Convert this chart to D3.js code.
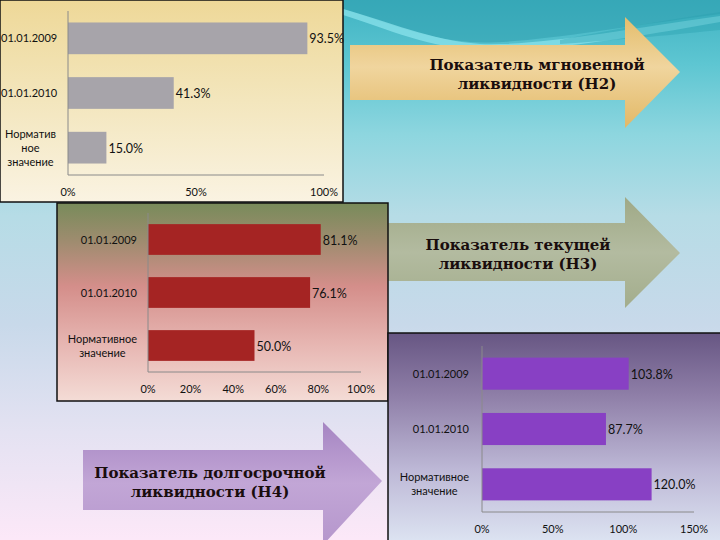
<!DOCTYPE html>
<html>
<head>
<meta charset="utf-8">
<script src="https://cdn.jsdelivr.net/npm/d3@7"></script>
<style>
  body { margin: 0; padding: 0; }
  svg { display: block; }
  .cat, .tick-lbl, .val { font-family: Lato, "Open Sans", sans-serif; fill: #111; }
  .arrow-text { font-family: "DejaVu Serif", serif; font-weight: bold; fill: #1a0d0d; }
</style>
</head>
<body>
<script>
//slide size
var w = 720, h = 540;

//data
var categories = ["01.01.2009", "01.01.2010", "Нормативное значение"];
var h2Values = [93.5, 41.3, 15.0];
var h3Values = [81.1, 76.1, 50.0];
var h4Values = [103.8, 87.7, 120.0];
var h2Ticks = [0, 50, 100];
var h3Ticks = [0, 20, 40, 60, 80, 100];
var h4Ticks = [0, 50, 100, 150];
//how category names are wrapped in each chart
var h2Lines = [["01.01.2009"], ["01.01.2010"], ["Норматив", "ное", "значение"]];
var h34Lines = [["01.01.2009"], ["01.01.2010"], ["Нормативное", "значение"]];
var arrowTitles = [
    ["Показатель мгновенной", "ликвидности (Н2)"],
    ["Показатель текущей", "ликвидности (Н3)"],
    ["Показатель долгосрочной", "ликвидности (Н4)"]
];

var svg = d3.select("body").append("svg")
    .attr("width", w)
    .attr("height", h);

var defs = svg.append("defs");

//helper for linear gradients
function grad(id, stops, horizontal){
    var g = defs.append("linearGradient")
        .attr("id", id)
        .attr("x1", 0).attr("y1", 0)
        .attr("x2", horizontal ? 1 : 0)
        .attr("y2", horizontal ? 0 : 1);
    stops.forEach(function(s){
        g.append("stop").attr("offset", s[0]).attr("stop-color", s[1]);
    });
}

grad("bg", [[0, "#3fb3c2"], [0.12, "#5ec6d2"], [0.25, "#8ed6df"], [0.4, "#b6dce6"], [0.6, "#c8d9ea"], [0.8, "#e4e2f2"], [1, "#fce8f8"]]);
grad("p1", [[0, "#eed898"], [0.5, "#f3e6bd"], [1, "#faf3e2"]]);
grad("p2", [[0, "#788b5a"], [0.2, "#a08c70"], [0.42, "#d48e8a"], [0.7, "#e6b4b0"], [1, "#f4dcd6"]]);
grad("p3", [[0, "#675683"], [0.3, "#8f7fa8"], [0.65, "#bdb8d6"], [1, "#dde4f2"]]);
grad("a1", [[0, "#e4bd6c"], [0.45, "#f0d59e"], [1, "#e2b866"]]);
grad("a2", [[0, "#9fa986"], [0.5, "#b3bba0"], [1, "#a3ad8c"]]);
grad("a3", [[0, "#a585c2"], [0.5, "#c2a6d6"], [1, "#b596cc"]]);

//background
svg.append("rect")
    .attr("width", w).attr("height", h)
    .style("fill", "url(#bg)");

//teal swooshes at the top
svg.append("path")
    .attr("d", "M340,0 L720,0 L720,14 C600,30 520,45 470,42 C420,38 380,20 340,8 Z")
    .style("fill", "#2f9fae").style("opacity", 0.55);
svg.append("path")
    .attr("d", "M340,8 C390,22 430,40 480,44 C540,46 620,30 720,16 L720,22 C620,40 540,52 480,50 C430,48 390,30 340,14 Z")
    .style("fill", "#8fe6ee").style("opacity", 0.7);
svg.append("path")
    .attr("d", "M560,40 C620,28 680,18 720,12 L720,30 C680,34 620,40 560,44 Z")
    .style("fill", "#2aa0b0").style("opacity", 0.4);

//arrow shape: body + head
function arrow(b, fillId){
    var pts = [
        [b.x0, b.y0], [b.hx, b.y0], [b.hx, b.hy0], [b.tx, b.ty],
        [b.hx, b.hy1], [b.hx, b.y1], [b.x0, b.y1]
    ];
    svg.append("path")
        .attr("d", d3.line()(pts) + "Z")
        .style("fill", "url(#" + fillId + ")");
}

function arrowText(lines, cx, y0){
    var t = svg.append("text")
        .attr("class", "arrow-text")
        .attr("text-anchor", "middle")
        .style("font-size", "15px");
    lines.forEach(function(l, i){
        t.append("tspan").attr("x", cx).attr("y", y0 + i * 19).text(l);
    });
}

arrow({x0: 350, y0: 45, y1: 100, hx: 625, hy0: 17, hy1: 128, tx: 680, ty: 72}, "a1");
arrow({x0: 388, y0: 223, y1: 281, hx: 625, hy0: 197, hy1: 308, tx: 680, ty: 253}, "a2");
arrow({x0: 83, y0: 450, y1: 510, hx: 323, hy0: 422, hy1: 545, tx: 382, ty: 481}, "a3");

//one bar chart panel
function panel(cfg){
    var g = svg.append("g");

    g.append("rect")
        .attr("x", cfg.box[0]).attr("y", cfg.box[1])
        .attr("width", cfg.box[2]).attr("height", cfg.box[3])
        .style("fill", "url(#" + cfg.bg + ")")
        .style("stroke", "#111")
        .style("stroke-width", 1.5);

    var x = d3.scaleLinear()
        .domain([0, cfg.max])
        .range(cfg.xRange);

    var y = d3.scaleBand()
        .domain(categories)
        .range(cfg.yRange)
        .paddingInner(0.42)
        .paddingOuter(0.21);

    //bars
    g.selectAll(".bar")
        .data(cfg.values)
        .enter()
        .append("rect")
        .attr("class", "bar")
        .attr("x", x(0))
        .attr("y", function(d, i){ return y(categories[i]); })
        .attr("width", function(d){ return x(d) - x(0); })
        .attr("height", y.bandwidth())
        .style("fill", cfg.color);

    //axis lines
    g.append("line")
        .attr("x1", x(0)).attr("x2", x(0))
        .attr("y1", cfg.yRange[0]).attr("y2", cfg.yRange[1])
        .style("stroke", "#8a8a8a");
    g.append("line")
        .attr("x1", x(0)).attr("x2", x(cfg.max))
        .attr("y1", cfg.yRange[1]).attr("y2", cfg.yRange[1])
        .style("stroke", "#8a8a8a");

    //tick labels
    g.selectAll(".tick-lbl")
        .data(cfg.ticks)
        .enter()
        .append("text")
        .attr("class", "tick-lbl")
        .attr("text-anchor", "middle")
        .attr("x", function(d){ return x(d); })
        .attr("y", cfg.yRange[1] + 21)
        .style("font-size", "11px")
        .text(function(d){ return d + "%"; });

    //value labels
    g.selectAll(".val")
        .data(cfg.values)
        .enter()
        .append("text")
        .attr("class", "val")
        .attr("x", function(d){ return x(d) + 2; })
        .attr("y", function(d, i){ return y(categories[i]) + y.bandwidth() / 2 + 5; })
        .style("font-size", "12.5px")
        .text(function(d){ return d3.format(".1f")(d) + "%"; });

    //category labels: block right-aligned, lines centred in block
    cfg.lines.forEach(function(lines, i){
        var cy = y(categories[i]) + y.bandwidth() / 2;
        var t = g.append("text")
            .attr("class", "cat")
            .attr("text-anchor", "middle")
            .style("font-size", "11px");
        var spans = lines.map(function(l, j){
            return t.append("tspan")
                .attr("y", cy + 4 + (j - (lines.length - 1) / 2) * 14)
                .text(l);
        });
        var bw = d3.max(spans, function(s){ return s.node().getComputedTextLength(); });
        var cx = Math.max(x(0) - cfg.gap - bw / 2, cfg.box[0] + bw / 2 + 1);
        spans.forEach(function(s){ s.attr("x", cx); });
    });
}

panel({
    box: [0, 0, 343, 202], bg: "p1", color: "#a7a4aa",
    values: h2Values, ticks: h2Ticks, lines: h2Lines, max: 100,
    xRange: [68, 324], yRange: [11, 175], gap: 12
});

panel({
    box: [57, 203, 331, 198], bg: "p2", color: "#a52423",
    values: h3Values, ticks: h3Ticks, lines: h34Lines, max: 100,
    xRange: [148, 361], yRange: [213, 372], gap: 11
});

panel({
    box: [388, 333, 335, 210], bg: "p3", color: "#8840c4",
    values: h4Values, ticks: h4Ticks, lines: h34Lines, max: 150,
    xRange: [482, 694], yRange: [346, 512], gap: 13
});

//arrow titles
arrowText(arrowTitles[0], 537, 70);
arrowText(arrowTitles[1], 518, 250);
arrowText(arrowTitles[2], 210, 478);
</script>
</body>
</html>
